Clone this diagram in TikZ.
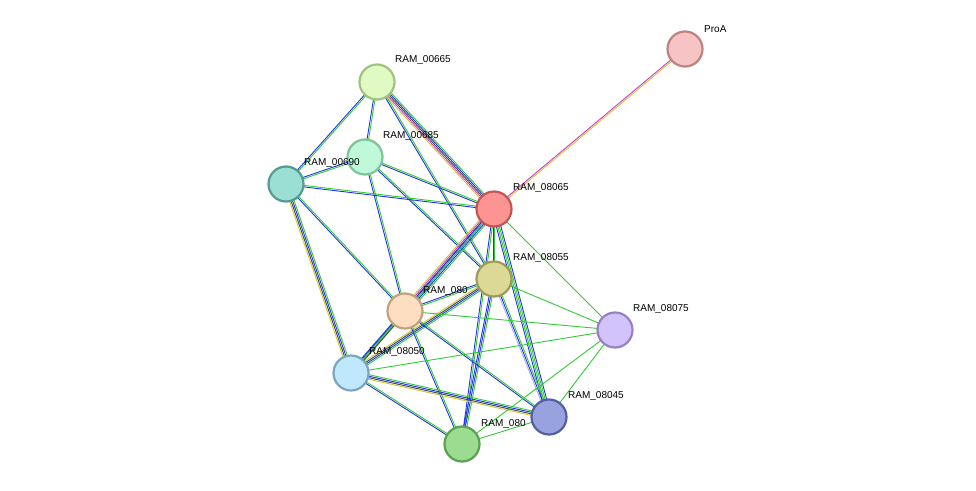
\documentclass[tikz,border=0pt]{standalone}
\usepackage{fontspec}
\setmainfont{Liberation Sans}
\usetikzlibrary{calc}
\definecolor{eb}{HTML}{2233EE}
\definecolor{eg}{HTML}{33CC33}
\definecolor{ek}{HTML}{444444}
\definecolor{ey}{HTML}{C8CC33}
\definecolor{em}{HTML}{D633D6}
\definecolor{el}{HTML}{AAB0EE}
\newcommand\edge[3]{%
 \foreach \c [count=\i] in {#3} {\xdef\nn{\i}}%
 \foreach \c [count=\i] in {#3} {%
  \draw[\c, line width=0.9pt] let \p1=($(#2)-(#1)$), \n1={veclen(\x1,\y1)}, \n2={(\i-(\nn+1)/2)*1.5} in
   ($(#1)+({-\y1/\n1*\n2*1pt},{\x1/\n1*\n2*1pt})$) -- ($(#2)+({-\y1/\n1*\n2*1pt},{\x1/\n1*\n2*1pt})$);
 }}
\tikzset{prot/.style={circle,minimum size=35pt,inner sep=0pt,line width=2.2pt},
 lab/.style={anchor=south west,font=\fontsize{10pt}{10pt}\selectfont,inner sep=0pt}}
\begin{document}
\begin{tikzpicture}[x=1pt,y=-1pt]
\fill[white] (0,0) rectangle (976,490);
\useasboundingbox (0,0) rectangle (976,490);
\coordinate (proa) at (685,49);
\coordinate (n665) at (377,82);
\coordinate (n685) at (365,157);
\coordinate (n690) at (286,184);
\coordinate (n065) at (494,209);
\coordinate (n055) at (494,279);
\coordinate (npe) at (405,311);
\coordinate (n075) at (615,330);
\coordinate (n050) at (351,373);
\coordinate (n045) at (549,417);
\coordinate (ngr) at (462,444);
\edge{proa}{n065}{em,ey}
\edge{n665}{n690}{eb,eg}
\edge{n665}{n685}{eb,eg}
\edge{n665}{n065}{ey,em,ek,eb,eg}
\edge{n665}{n055}{eb,eg}
\edge{n685}{n690}{eb,eg}
\edge{n685}{n065}{eb,eg}
\edge{n685}{n055}{eb,eg}
\edge{n685}{npe}{eb,eg}
\edge{n690}{n065}{eb,eg}
\edge{n690}{npe}{eb,eg}
\edge{n690}{n050}{ey,ek,eb,eg}
\edge{n065}{npe}{ey,em,ek,eb,eb,eg}
\edge{n065}{n055}{eb,eg}
\edge{n065}{ngr}{eb,eg}
\edge{n065}{n045}{eb,eg,eg,eb}
\edge{n065}{n075}{eg}
\edge{n065}{n050}{eb,eg}
\edge{n055}{npe}{eb,eg}
\edge{n055}{n050}{ey,ek,eb,eg}
\edge{n055}{n075}{eg}
\edge{n055}{ngr}{eb,eb,eg}
\edge{n055}{n045}{el,eb,eg}
\edge{npe}{n075}{eg}
\edge{npe}{n050}{eb,eg,ek}
\edge{npe}{ngr}{eb,eg}
\edge{npe}{n045}{eb,eg}
\edge{n050}{n075}{eg}
\edge{n050}{n045}{ey,ek,eb,eg}
\edge{n050}{ngr}{eb,eg}
\edge{n075}{ngr}{eg}
\edge{n075}{n045}{eg}
\edge{n045}{ngr}{eg}
\node[lab] (lpe) at (423,296) {RAM\_080};
\node[lab] (lgr) at (481,429) {RAM\_080};
\node[prot,fill=white,draw=none] (cover) at (n055) {};
\node[prot,fill=white,draw=none] at (n045) {};
\node[prot,fill={rgb,255:red,246;green,196;blue,196},draw={rgb,255:red,190;green,130;blue,130}] (a) at (proa) {};
\node[prot,fill={rgb,255:red,225;green,250;blue,195},draw={rgb,255:red,160;green,195;blue,125}] (b) at (n665) {};
\node[prot,fill={rgb,255:red,192;green,248;blue,218},draw={rgb,255:red,125;green,195;blue,155}] (c) at (n685) {};
\node[prot,fill={rgb,255:red,154;green,222;blue,212},draw={rgb,255:red,85;green,155;blue,145}] (d) at (n690) {};
\node[prot,fill={rgb,255:red,252;green,148;blue,148},draw={rgb,255:red,195;green,85;blue,85}] (e) at (n065) {};
\node[prot,fill={rgb,255:red,220;green,216;blue,150},draw={rgb,255:red,160;green,155;blue,90}] (f) at (n055) {};
\node[prot,fill={rgb,255:red,253;green,222;blue,192},draw={rgb,255:red,195;green,160;blue,130}] (g) at (npe) {};
\node[prot,fill={rgb,255:red,210;green,195;blue,250},draw={rgb,255:red,150;green,130;blue,195}] (h) at (n075) {};
\node[prot,fill={rgb,255:red,192;green,232;blue,252},draw={rgb,255:red,125;green,165;blue,190}] (i) at (n050) {};
\node[prot,fill={rgb,255:red,152;green,162;blue,222},draw={rgb,255:red,85;green,95;blue,160}] (j) at (n045) {};
\node[prot,fill={rgb,255:red,155;green,220;blue,145},draw={rgb,255:red,90;green,160;blue,85}] (k) at (ngr) {};
\node[lab] (la) at (704,33) {ProA};
\node[lab] (lb) at (395,65) {RAM\_00665};
\node[lab] (lc) at (383,141) {RAM\_00685};
\node[lab] (ld) at (304,168) {RAM\_00690};
\node[lab] (le) at (513,193) {RAM\_08065};
\node[lab] (lf) at (513,263) {RAM\_08055};
\node[lab] (lh) at (633,314) {RAM\_08075};
\node[lab] (li) at (369,357) {RAM\_08050};
\node[lab] (lj) at (568,401) {RAM\_08045};
\end{tikzpicture}
\end{document}
